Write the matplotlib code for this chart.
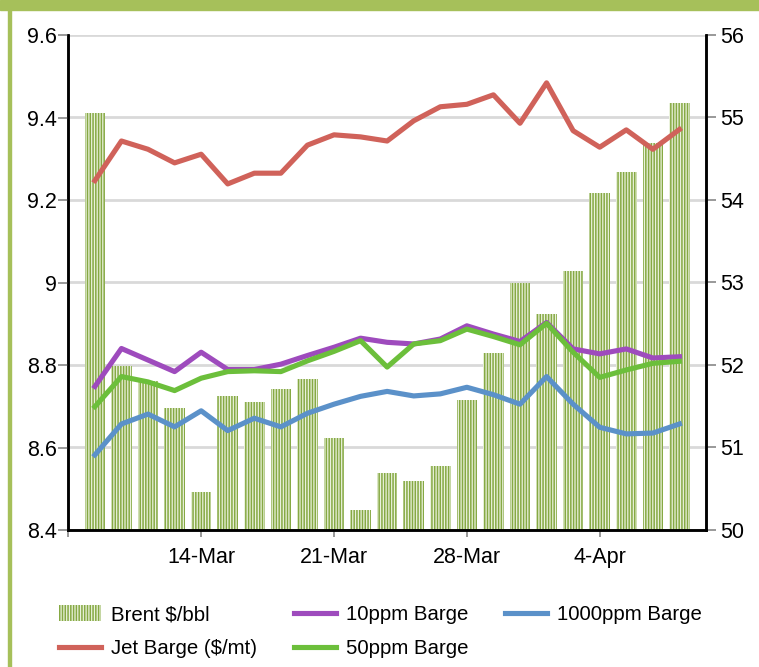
import matplotlib
matplotlib.use("Agg")
import matplotlib.pyplot as plt
from matplotlib.patches import Rectangle
from matplotlib.lines import Line2D

plt.rcParams['font.family'] = ['Liberation Sans', 'DejaVu Sans']
plt.rcParams['hatch.linewidth'] = 1.1

# ---- data ----
dates = ['8-Mar', '9-Mar', '10-Mar', '11-Mar', '14-Mar', '15-Mar', '16-Mar', '17-Mar',
         '18-Mar', '21-Mar', '22-Mar', '23-Mar', '24-Mar', '25-Mar', '28-Mar', '29-Mar',
         '30-Mar', '31-Mar', '1-Apr', '4-Apr', '5-Apr', '6-Apr', '7-Apr']
brent = [55.06, 51.99, 51.81, 51.48, 50.46, 51.62, 51.55, 51.71, 51.83, 51.11, 50.24, 50.69,
         50.59, 50.78, 51.58, 52.14, 52.99, 52.62, 53.14, 54.09, 54.34, 54.69, 55.17]
jet = [9.247, 9.343, 9.323, 9.290, 9.311, 9.239, 9.265, 9.265, 9.333, 9.358, 9.353, 9.343,
       9.392, 9.426, 9.432, 9.455, 9.386, 9.484, 9.368, 9.328, 9.370, 9.323, 9.371]
ppm10 = [8.748, 8.840, 8.812, 8.784, 8.831, 8.789, 8.789, 8.802, 8.823, 8.843, 8.865, 8.855,
         8.851, 8.863, 8.895, 8.875, 8.857, 8.903, 8.839, 8.827, 8.839, 8.817, 8.820]
ppm50 = [8.699, 8.772, 8.759, 8.738, 8.768, 8.784, 8.786, 8.784, 8.810, 8.833, 8.859, 8.795,
         8.851, 8.859, 8.887, 8.869, 8.849, 8.901, 8.831, 8.770, 8.788, 8.804, 8.809]
ppm1000 = [8.582, 8.657, 8.681, 8.650, 8.689, 8.641, 8.671, 8.650, 8.683, 8.705, 8.724, 8.736,
           8.725, 8.730, 8.746, 8.728, 8.705, 8.772, 8.705, 8.649, 8.633, 8.635, 8.657]
left_ticks = [8.4, 8.6, 8.8, 9.0, 9.2, 9.4, 9.6]
left_labels = ['8.4', '8.6', '8.8', '9', '9.2', '9.4', '9.6']
right_ticks = [50, 51, 52, 53, 54, 55, 56]
x_tick_pos = [0, 5, 10, 15, 20]
x_tick_labels = ['', '14-Mar', '21-Mar', '28-Mar', '4-Apr']

C_RED = '#d0625a'
C_PURPLE = '#9e4bbd'
C_GREEN = '#6cbf3b'
C_BLUE = '#5b91c9'
C_HATCH = '#86a944'
C_FACE = '#eaf2dc'
C_BORDER = '#a6c05a'
FS = 15.5
LFS = 14.7

W, H = 759, 667
fig = plt.figure(figsize=(W / 100, H / 100), dpi=100)

# decorative frame
fig.patches.append(Rectangle((0, 1 - 10 / H), 1, 10 / H, transform=fig.transFigure,
                             color=C_BORDER, zorder=0))
fig.patches.append(Rectangle((8 / W, 0), 2.5 / W, 1 - 10 / H, transform=fig.transFigure,
                             color=C_BORDER, zorder=0))

x = list(range(1, len(dates) + 1))

ax2 = fig.add_axes([68.3 / W, 1 - 530 / H, (706 - 68.3) / W, 495 / H])
ax = ax2.twinx()
ax.yaxis.tick_left()
ax.yaxis.set_label_position('left')
ax2.yaxis.tick_right()
ax2.yaxis.set_label_position('right')
ax.set_zorder(ax2.get_zorder() + 1)
ax.patch.set_visible(False)

bars = ax2.bar(x, brent, width=0.77, bottom=0, facecolor=C_FACE, edgecolor=C_HATCH,
               hatch='||||||', linewidth=0, zorder=2, label='Brent $/bbl')
ax2.set_ylim(50, 56)
ax2.set_yticks(right_ticks)
ax2.set_yticklabels([str(t) for t in right_ticks])
ax2.grid(axis='y', color='#d9d9d9', linewidth=2, zorder=0)
ax2.set_axisbelow(True)
ax2.set_xlim(0, 24)
ax2.set_xticks(x_tick_pos)
ax2.set_xticklabels(x_tick_labels)

l_jet, = ax.plot(x, jet, color=C_RED, lw=3.7, label='Jet Barge ($/mt)')
l_10, = ax.plot(x, ppm10, color=C_PURPLE, lw=3.7, label='10ppm Barge')
l_50, = ax.plot(x, ppm50, color=C_GREEN, lw=3.7, label='50ppm Barge')
l_1000, = ax.plot(x, ppm1000, color=C_BLUE, lw=3.7, label='1000ppm Barge')
ax.set_ylim(8.4, 9.6)
ax.set_yticks(left_ticks)
ax.set_yticklabels(left_labels)
ax.set_xlim(0, 24)

for a in (ax, ax2):
    a.spines['top'].set_visible(False)
    for s in ('left', 'right', 'bottom'):
        a.spines[s].set_linewidth(1.8)
        a.spines[s].set_color('black')
    a.tick_params(labelsize=FS, colors='#888888', labelcolor='black', width=1.2)

ax.tick_params(axis='y', length=7, pad=1)
ax2.tick_params(axis='y', length=7, pad=3)
ax2.tick_params(axis='x', length=5, pad=7)
ax.tick_params(axis='x', bottom=False, labelbottom=False)

handles = [bars, l_jet, l_10, l_50, l_1000]
labels = ['Brent $/bbl', 'Jet Barge ($/mt)', '10ppm Barge', '50ppm Barge', '1000ppm Barge']
fig.legend(handles, labels, loc='upper left', bbox_to_anchor=(59 / W, 1 - 605 / H),
           ncol=3, frameon=False, fontsize=LFS, handlelength=2.05, handleheight=0.85,
           handletextpad=0.5, columnspacing=1.8, labelspacing=0.72, borderaxespad=0,
           borderpad=0)

fig.savefig('out.png', dpi=100)
